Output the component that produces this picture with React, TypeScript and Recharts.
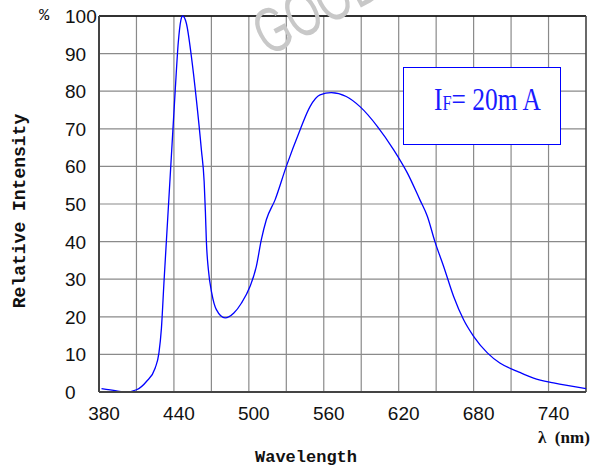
import React from "react"
import { LineChart, Line, XAxis, YAxis, CartesianGrid, ReferenceLine } from "recharts"

// spectrum (nm / %)
const wavelengths = [
  378, 390, 397, 406, 414, 421, 424, 426, 428, 431, 434, 437, 439.5, 441.5, 443, 446, 450, 454, 458, 460.2,
  461.2, 462, 463.6, 466.3, 470, 477, 484, 490, 497, 502, 506, 510, 517, 526, 537, 545, 553, 562, 574,
  585, 599, 612, 623, 633, 639, 645, 652, 660, 668, 676, 687, 697, 711, 724, 740, 766,
]
const intensity = [
  0.9, 0.3, 0, 0.6, 2.8, 6.4, 10.4, 17, 29, 46, 63, 80, 93, 98.8, 100, 98, 89.2, 77.7, 64.4, 56,
  48, 40, 32.5, 26.3, 21.9, 19.7, 21, 23.6, 28.1, 33.4, 40.5, 45.8, 51.1, 60, 69.7, 75.9, 79, 79.6, 78.6,
  75.9, 70.6, 64.4, 58.2, 51.1, 46.7, 40, 33.4, 25.4, 19.2, 14.8, 10.4, 7.7, 5.5, 3.7, 2.4, 0.9,
]
const xTicks = [380, 440, 500, 560, 620, 680, 740]
const xGrid = [406, 436, 466, 496, 526, 556, 586, 616, 646, 676, 706, 736]
const yTicks = [0, 10, 20, 30, 40, 50, 60, 70, 80, 90, 100]

const GRID = "#8a8a8a"
const tickFont = { fontFamily: "'Liberation Sans', Arial, sans-serif", fontSize: 19, fill: "#111" }

function XTick(props: any) {
  const { x, y, payload } = props
  return (
    <text x={x} y={y + 28} textAnchor="middle" style={tickFont}>
      {payload.value}
    </text>
  )
}

function YTick(props: any) {
  const { x, y, payload } = props
  return (
    <text x={x - 34} y={y + 7} textAnchor="start" style={tickFont}>
      {payload.value}
    </text>
  )
}

export default function App() {
  const data = wavelengths.map((w, i) => ({ w, v: intensity[i] }))
  const mono = "'Liberation Mono', 'Courier New', monospace"

  return (
    <div style={{ position: "absolute", left: 0, top: 0, width: 598, height: 471, background: "#fff", overflow: "hidden" }}>
      <LineChart width={598} height={471} data={data} margin={{ top: 16, right: 12, bottom: 0, left: 0 }}>
        <CartesianGrid vertical={false} stroke={GRID} strokeWidth={1.2} />
        {xGrid.map((g) => (
          <ReferenceLine key={g} x={g} stroke={GRID} strokeWidth={1.2} />
        ))}
        <ReferenceLine y={100} stroke="#000" strokeWidth={1.6} />
        <ReferenceLine x={766} stroke="#444" strokeWidth={1.6} />
        <XAxis
          dataKey="w"
          type="number"
          domain={[376, 766]}
          ticks={xTicks}
          tickLine={false}
          tickSize={0}
          tickMargin={0}
          tick={<XTick />}
          axisLine={{ stroke: "#444", strokeWidth: 2 }}
          height={79}
        />
        <YAxis
          type="number"
          domain={[0, 100]}
          ticks={yTicks}
          tickLine={false}
          tickSize={0}
          tickMargin={0}
          tick={<YTick />}
          axisLine={{ stroke: "#444", strokeWidth: 2 }}
          width={99}
        />
        <Line
          type="monotone"
          dataKey="v"
          stroke="#0000ff"
          strokeWidth={1.3}
          dot={false}
          isAnimationActive={false}
        />
      </LineChart>

      {/* watermark */}
      <svg width={598} height={471} style={{ position: "absolute", left: 0, top: 0, pointerEvents: "none" }}>
        <text
          transform="translate(268 57) rotate(-28) scale(0.68 1)"
          style={{ fontFamily: "'Liberation Sans', Arial, sans-serif", fontSize: 64, fill: "#c8c8c8" }}
        >
          GOOD
        </text>
      </svg>

      <span style={{ position: "absolute", left: 39, top: 6, fontFamily: mono, fontSize: 17, color: "#111" }}>%</span>

      <div
        style={{
          position: "absolute",
          left: 20,
          top: 211,
          transform: "translate(-50%, -50%) rotate(-90deg)",
          whiteSpace: "nowrap",
          fontFamily: mono,
          fontWeight: "bold",
          fontSize: 18,
          color: "#111",
        }}
      >
        Relative Intensity
      </div>

      <div
        style={{
          position: "absolute",
          left: 306,
          top: 457,
          transform: "translate(-50%, -50%)",
          whiteSpace: "nowrap",
          fontFamily: mono,
          fontWeight: "bold",
          fontSize: 17,
          color: "#111",
        }}
      >
        Wavelength
      </div>

      <div
        style={{
          position: "absolute",
          left: 538,
          top: 428,
          whiteSpace: "pre",
          fontFamily: "'Liberation Serif', 'Times New Roman', serif",
          fontWeight: "bold",
          fontSize: 17,
          color: "#111",
        }}
      >
        {"λ  (nm)"}
      </div>

      <div
        style={{
          position: "absolute",
          left: 403,
          top: 67,
          width: 156,
          height: 76,
          border: "1.5px solid #0000ff",
          background: "#fff",
        }}
      >
        <div
          style={{
            position: "absolute",
            left: 30,
            top: 14,
            transform: "scaleX(0.82)",
            transformOrigin: "left top",
            whiteSpace: "nowrap",
            fontFamily: "'Liberation Serif', 'Times New Roman', serif",
            fontSize: 31,
            color: "#1a1aff",
          }}
        >
          I<span style={{ fontSize: 20 }}>F</span>= 20m A
        </div>
      </div>
    </div>
  )
}
